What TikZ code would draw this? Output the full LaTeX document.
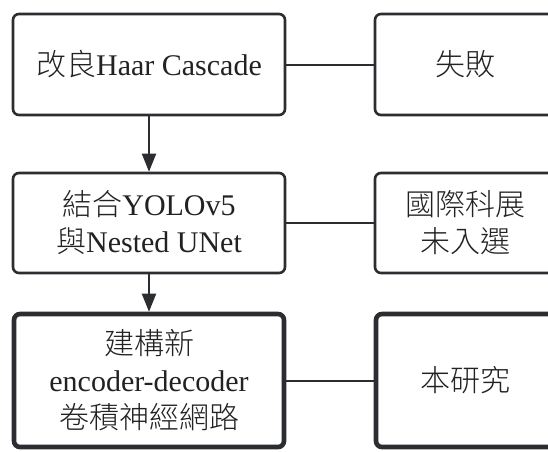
\documentclass[tikz,border=0pt]{standalone}
\usepackage{fontspec}
\setmainfont{Liberation Serif}
\newfontfamily\cjk{Noto Sans CJK TC Light}
\usetikzlibrary{arrows.meta}
\definecolor{edge}{HTML}{2B2D31}
\definecolor{txt}{HTML}{222222}
\begin{document}
\begin{tikzpicture}[x=1pt,y=-1pt,
  box/.style={draw=edge, line width=2.6pt, rounded corners=6pt, fill=white,
    text=txt, align=center, inner sep=0pt,
    font=\fontsize{30}{37}\selectfont},
  thickbox/.style={box, line width=4.6pt},
  link/.style={draw=edge, line width=2pt},
  flow/.style={draw=edge, line width=2pt, -{Triangle[length=18pt,width=14pt]}}]
\useasboundingbox (0,0) rectangle (548,451);
\node[box, minimum width=272pt, minimum height=101pt] (a) at (149,64.5) {{\cjk 改良}Haar Cascade};
\node[box, minimum width=180pt, minimum height=101pt] (b) at (465,64.5) {\cjk 失敗};
\node[box, minimum width=272pt, minimum height=100pt] (c) at (149,223) {{\cjk 結合}YOLOv5\\{\cjk 與}Nested UNet};
\node[box, minimum width=180pt, minimum height=100pt] (d) at (465,223) {\cjk 國際科展\\\cjk 未入選};
\node[thickbox, minimum width=270pt, minimum height=133pt] (e) at (149,380.5) {{\cjk 建構新}\\encoder-decoder\\{\cjk 卷積神經網路}};
\node[thickbox, minimum width=178pt, minimum height=133pt] (f) at (465,380.5) {\cjk 本研究};
\draw[link] (a) -- (b);
\draw[link] (c) -- (d);
\draw[link] (e) -- (f);
\draw[flow] (a) -- (c);
\draw[flow] (c) -- (e);
\end{tikzpicture}
\end{document}
